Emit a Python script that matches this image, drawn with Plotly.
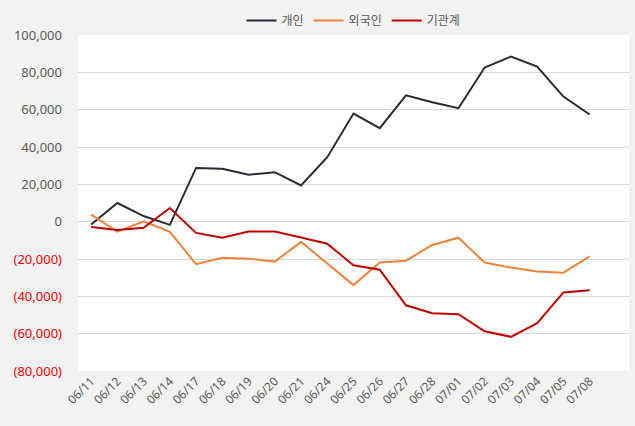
import plotly.graph_objects as go

dates = ["06/11","06/12","06/13","06/14","06/17","06/18","06/19","06/20","06/21","06/24",
         "06/25","06/26","06/27","06/28","07/01","07/02","07/03","07/04","07/05","07/08"]
individual = [-1500, 10000, 3000, -1700, 28800, 28300, 25100, 26500, 19400, 34500,
              57900, 50100, 67700, 64000, 60800, 82600, 88400, 83100, 67000, 57400]
foreign = [3800, -5400, 200, -5400, -22800, -19300, -19800, -21400, -10800, -22300,
           -34000, -21900, -20900, -12500, -8600, -21900, -24600, -26700, -27300, -18600]
institution = [-2800, -4500, -3300, 7300, -6000, -8600, -5300, -5300, -8500, -11800,
               -23400, -25700, -44800, -49100, -49600, -58700, -61700, -54400, -37900, -36700]
series_names = ["개인", "외국인", "기관계"]
series_colors = ["#262b36", "#f0823a", "#c00000"]
y_ticks = [100000, 80000, 60000, 40000, 20000, 0, -20000, -40000, -60000, -80000]

def fmt(v):
    if v < 0:
        return "<span style='color:#ff0000'>(" + f"{-v:,}" + ")</span>"
    return f"{v:,}"

fig = go.Figure()
for name, vals, col in zip(series_names, [individual, foreign, institution], series_colors):
    fig.add_trace(go.Scatter(x=list(range(len(dates))), y=vals, name=name, mode="lines",
                             line=dict(color=col, width=2)))

font_family = "Noto Sans, Noto Sans CJK KR, sans-serif"
fig.update_layout(
    width=635, height=426,
    margin=dict(l=78, r=6, t=33, b=55),
    paper_bgcolor="#f2f2f2", plot_bgcolor="#ffffff",
    font=dict(family=font_family, size=12, color="#595959"),
    showlegend=True,
    legend=dict(orientation="h", x=0.5, xanchor="center", y=1.0, yanchor="bottom",
                font=dict(size=12, color="#595959"), bgcolor="rgba(0,0,0,0)",
                itemwidth=30, tracegroupgap=0),
    xaxis=dict(tickmode="array", tickvals=list(range(len(dates))), ticktext=dates,
               range=[-0.5, 20.5], showgrid=False, zeroline=False, tickangle=-45,
               tickfont=dict(size=12, color="#595959"), showline=False),
    yaxis=dict(tickmode="array", tickvals=y_ticks, ticktext=[fmt(v) for v in y_ticks],
               range=[-80000, 100000], showgrid=True, gridcolor="#d9d9d9", gridwidth=1,
               zeroline=False, tickfont=dict(size=13, color="#595959"),
               ticklabelstandoff=15, showline=False),
)
fig.write_html("out.html")
